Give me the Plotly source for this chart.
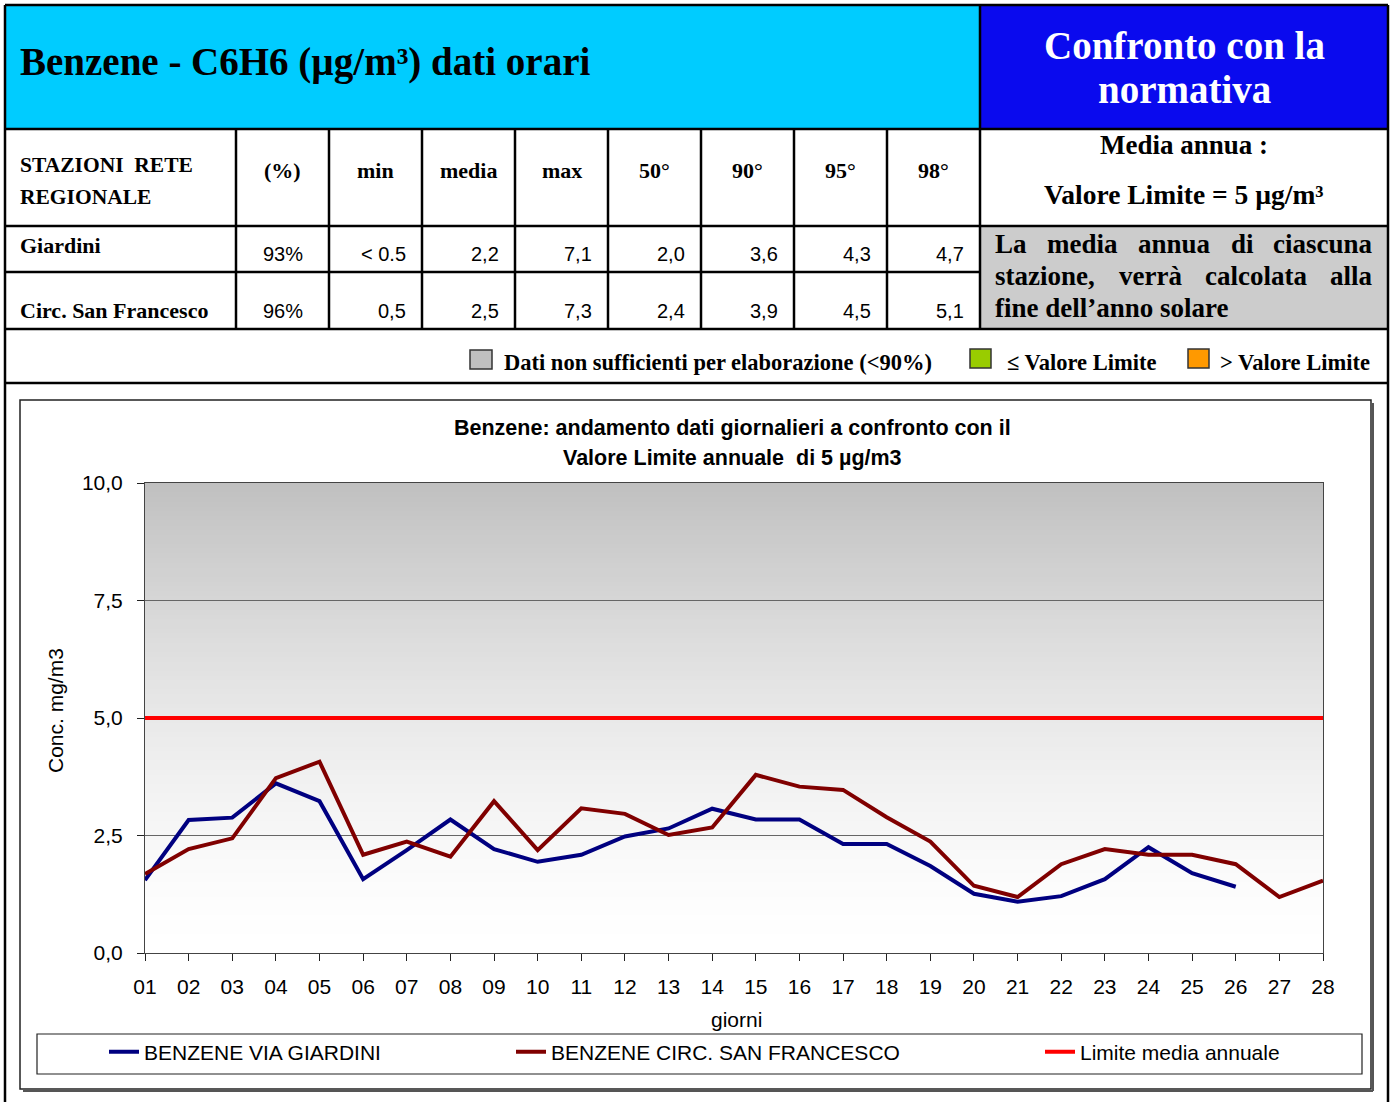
import plotly.graph_objects as go

W, H = 1394, 1102
SERIF = "Liberation Serif"
SANS = "Liberation Sans"

# ---------------- data ----------------
days = [f"{d:02d}" for d in range(1, 29)]
giardini = [1.55, 2.83, 2.88, 3.61, 3.23, 1.57, 2.19, 2.84, 2.21, 1.94, 2.09, 2.48, 2.65, 3.07,
            2.84, 2.84, 2.32, 2.32, 1.85, 1.26, 1.09, 1.21, 1.57, 2.25, 1.70, 1.41, None, None]
san_francesco = [1.68, 2.21, 2.44, 3.72, 4.07, 2.09, 2.37, 2.05, 3.23, 2.19, 3.08, 2.96, 2.51, 2.67,
                 3.79, 3.54, 3.47, 2.89, 2.37, 1.43, 1.19, 1.89, 2.21, 2.09, 2.09, 1.89, 1.19, 1.54]
limite = [5.0] * 28
series_names = ["BENZENE VIA GIARDINI", "BENZENE CIRC. SAN FRANCESCO", "Limite media annuale"]

stations = ["Giardini", "Circ. San Francesco"]
col_headers = ["(%)", "min", "media", "max", "50°", "90°", "95°", "98°"]
pct = ["93%", "96%"]
vmin = ["< 0.5", "0,5"]
vmedia = ["2,2", "2,5"]
vmax = ["7,1", "7,3"]
p50 = ["2,0", "2,4"]
p90 = ["3,6", "3,9"]
p95 = ["4,3", "4,5"]
p98 = ["4,7", "5,1"]
y_ticks = [0, 2.5, 5, 7.5, 10]


def X(p):
    return p / W


def Y(p):
    return 1 - p / H


shapes = []
annotations = []


def rect(x0, y0, x1, y1, fill=None, line_color=None, lw=0, layer="above"):
    shapes.append(dict(type="rect", xref="paper", yref="paper", x0=X(x0), x1=X(x1), y0=Y(y1), y1=Y(y0),
                       fillcolor=fill if fill else "rgba(0,0,0,0)",
                       line=dict(color=line_color if line_color else "rgba(0,0,0,0)", width=lw),
                       layer=layer))


def line(x0, y0, x1, y1, color="black", lw=2):
    shapes.append(dict(type="line", xref="paper", yref="paper", x0=X(x0), x1=X(x1), y0=Y(y0), y1=Y(y1),
                       line=dict(color=color, width=lw), layer="above"))


def txt(x, y, s, size, color="black", family=SERIF, bold=True, xanchor="left", yanchor="middle", angle=0):
    annotations.append(dict(xref="paper", yref="paper", x=X(x), y=Y(y), text=s, showarrow=False,
                            xanchor=xanchor, yanchor=yanchor, textangle=angle,
                            font=dict(family=family, size=size, color=color,
                                      weight="bold" if bold else "normal")))


# ---------------- table fills ----------------
rect(5, 5, 980, 129, fill="#00CCFF", layer="below")
rect(980, 5, 1388, 129, fill="#0A0AEE", layer="below")
rect(980, 226, 1388, 329, fill="#CCCCCC", layer="below")

# table lines
for yy in [5, 129, 226, 329, 383]:
    line(5, yy, 1388, yy, lw=2.5)
line(5, 272, 980, 272, lw=2.5)
line(5, 5, 5, 1102, lw=2.5)
line(1388, 5, 1388, 1102, lw=2.5)
line(980, 5, 980, 329, lw=2.5)
col_edges = [236, 329, 422, 515, 608, 701, 794, 887, 980]
for xx in col_edges[:-1]:
    line(xx, 129, xx, 329, lw=2.5)

# header texts
txt(18, 62, "Benzene - C6H6 (µg/m³) dati orari", 39)
txt(1184, 45, "Confronto con la", 39, color="white", xanchor="center")
txt(1184, 90, "normativa", 39, color="white", xanchor="center")

txt(18, 165, "STAZIONI  RETE", 21.5)
txt(18, 197, "REGIONALE", 21.5)
for i, h in enumerate(col_headers):
    cx = (col_edges[i] + col_edges[i + 1]) / 2
    txt(cx, 170, h, 22, xanchor="center")

txt(1184, 145, "Media annua :", 27, xanchor="center")
txt(1184, 194, "Valore Limite = 5 µg/m³", 27.5, xanchor="center")

# rows
row_label_y = [246, 311]
row_value_y = [254, 311]
value_cols = [vmin, vmedia, vmax, p50, p90, p95, p98]
for r, st in enumerate(stations):
    txt(18, row_label_y[r], st, 22)
    txt((col_edges[0] + col_edges[1]) / 2, row_value_y[r], pct[r], 20, family=SANS, bold=False, xanchor="center")
    for c, vals in enumerate(value_cols):
        txt(col_edges[c + 2] - 14, row_value_y[r], vals[r], 20, family=SANS, bold=False, xanchor="right")

# justified note
note_lines = [
    (244, [("La", 993, "left"), ("media", 1082, "center"), ("annua", 1174, "center"),
           ("di", 1242, "center"), ("ciascuna", 1375, "right")]),
    (276, [("stazione,", 993, "left"), ("verrà", 1150, "center"), ("calcolata", 1256, "center"),
           ("alla", 1375, "right")]),
    (308, [("fine dell’anno solare", 993, "left")]),
]
for yy, words in note_lines:
    for w, xx, anc in words:
        txt(xx, yy, w, 27, xanchor=anc)

# colour key row
rect(470, 350, 492, 369, fill="#C0C0C0", line_color="#333", lw=1.5)
txt(502, 362, "Dati non sufficienti per elaborazione (<90%)", 22.5)
rect(970, 349, 991, 368, fill="#99CC00", line_color="#333", lw=1.5)
txt(1005, 362, "≤ Valore Limite", 22.5)
rect(1188, 349, 1209, 368, fill="#FF9900", line_color="#333", lw=1.5)
txt(1218, 362, "> Valore Limite", 22.5)

# chart frame + legend box
rect(20, 400, 1371, 1089, line_color="#222", lw=1.5)
line(1373, 403, 1373, 1091, color="#555", lw=2)
line(23, 1091, 1373, 1091, color="#555", lw=2)
rect(37, 1034, 1362, 1074, line_color="#222", lw=1.2)

# chart title + axis titles
txt(732, 428, "Benzene: andamento dati giornalieri a confronto con il", 21.5, family=SANS, xanchor="center")
txt(732, 458, "Valore Limite annuale  di 5 µg/m3", 21.5, family=SANS, xanchor="center")
txt(55, 710, "Conc. mg/m3", 21, family=SANS, bold=False, xanchor="center", angle=-90)
txt(736, 1020, "giorni", 21, family=SANS, bold=False, xanchor="center")

# plot-area gradient background (overlapping bands to avoid seams)
N = 100
for i in range(N):
    v0 = 10 * i / N
    v1 = min(10.0, 10 * (i + 1.6) / N)
    t = (i + 0.5) / N
    g = int(round(255 - 63 * t ** 1.5))
    shapes.append(dict(type="rect", xref="x domain", yref="y", x0=0, x1=1, y0=v0, y1=v1,
                       fillcolor=f"rgb({g},{g},{g})", line=dict(width=0), layer="below"))

fig = go.Figure()
colors = ["#000080", "#800000", "#FF0000"]
legends = ["legend", "legend2", "legend3"]
for name, ys, col, lg in zip(series_names, [giardini, san_francesco, limite], colors, legends):
    fig.add_trace(go.Scatter(x=days, y=ys, mode="lines", name=name, legend=lg,
                             line=dict(color=col, width=4), connectgaps=False, hoverinfo="skip"))

leg_common = dict(yanchor="middle", xanchor="left", orientation="h", bgcolor="rgba(0,0,0,0)",
                  font=dict(family=SANS, size=21, color="black"), borderwidth=0)
leg_text_x = [146, 553, 1082]
fig.update_layout(
    width=W, height=H, margin=dict(l=0, r=0, t=0, b=0, autoexpand=False),
    paper_bgcolor="white", plot_bgcolor="white",
    separators=",.",
    showlegend=True,
    legend=dict(x=X(leg_text_x[0] - 42), y=Y(1052), **leg_common),
    legend2=dict(x=X(leg_text_x[1] - 42), y=Y(1052), **leg_common),
    legend3=dict(x=X(leg_text_x[2] - 42), y=Y(1052), **leg_common),
    xaxis=dict(domain=[X(145), X(1323)], type="category", range=[0, 27], showgrid=False, automargin=False,
               showline=True, linecolor="#444", linewidth=1, mirror=True,
               ticks="outside", ticklen=7, tickcolor="#222", dtick=1,
               tickfont=dict(family=SANS, size=21, color="black"), ticklabelstandoff=8, zeroline=False),
    yaxis=dict(domain=[Y(953), Y(483)], range=[0, 10], tickvals=y_ticks, tickformat=".1f", automargin=False,
               showgrid=True, gridcolor="#666", gridwidth=1, zeroline=False,
               showline=True, linecolor="#444", linewidth=1, mirror=True,
               ticks="outside", ticklen=7, tickcolor="#222",
               tickfont=dict(family=SANS, size=21, color="black"), ticklabelstandoff=10),
    shapes=shapes, annotations=annotations,
)

fig.write_html("out.html", config={"displayModeBar": False},
               post_script="document.body.style.margin='0';")
